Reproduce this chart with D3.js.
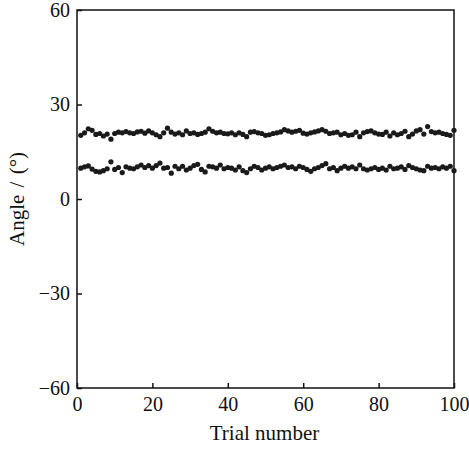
<!DOCTYPE html>
<html>
<head>
<meta charset="utf-8">
<script src="https://cdn.jsdelivr.net/npm/d3@7"></script>
<style>
  body { margin: 0; background: #fff; }
  text { font-family: "Liberation Serif", "Times New Roman", serif; fill: #111; }
</style>
</head>
<body>
<svg id="main-svg"></svg>
<script>
const svg = d3.select("#main-svg");

// data
const upperAngles = [
  20.2, 21.0, 22.3, 21.8, 20.5, 20.8, 20.0, 20.6, 19.0, 20.8,
  21.2, 21.0, 21.4, 21.0, 20.8, 21.3, 21.5, 20.9, 21.6, 21.0,
  20.4, 19.8, 21.0, 22.5, 21.2, 20.6, 21.0, 20.4, 21.6, 20.8,
  21.0, 20.5, 20.8, 21.2, 22.3, 21.5, 21.0, 21.2, 20.8, 20.7,
  21.0, 20.4, 21.0, 20.5, 19.8, 21.2, 21.4, 21.0, 20.8, 20.2,
  20.4, 20.8, 21.0, 21.3, 22.0, 21.6, 21.2, 21.5, 21.8, 20.9,
  20.6, 21.0, 21.3, 21.6, 22.0, 21.5, 20.8, 21.0, 21.2, 20.4,
  20.8, 20.2, 20.4, 21.2, 19.8, 21.0, 21.4, 21.6, 21.0, 20.6,
  20.5, 21.2, 20.0, 21.0, 20.4, 20.8, 21.5, 19.8, 20.6, 21.6,
  22.0, 20.6, 23.0, 21.4, 21.0, 21.2, 20.8, 20.5, 20.2, 21.8
];
const lowerAngles = [
  9.8, 10.2, 10.5, 9.5, 8.8, 8.6, 9.0, 9.6, 11.8, 9.4,
  10.0, 8.4, 10.2, 9.8, 9.6, 10.2, 10.8, 10.0, 10.6, 9.8,
  10.6, 11.4, 9.8, 10.0, 8.2, 10.4, 9.6, 10.4, 9.2, 9.8,
  10.6, 11.0, 9.4, 8.6, 10.4, 10.2, 9.8, 10.8, 9.6, 10.0,
  9.8, 9.2, 10.2, 9.0, 8.4, 9.6, 10.4, 10.0, 9.2, 9.8,
  10.2, 9.6, 10.0, 10.4, 10.8, 10.0, 10.2, 9.6, 10.4, 10.0,
  9.4, 8.8, 9.6, 10.0, 10.6, 11.2, 9.6, 10.0, 9.0, 9.8,
  10.4, 9.8, 10.2, 9.6, 10.8, 9.6, 9.2, 9.6, 10.0, 9.4,
  9.8, 9.2, 10.4, 9.6, 9.8, 10.2, 9.4, 10.6, 10.0, 9.6,
  9.2, 9.0, 10.4, 9.8, 10.0, 9.6, 10.2, 9.8, 10.4, 9.0
];
const xTicks = [0, 20, 40, 60, 80, 100];
const yTicks = [-60, -30, 0, 30, 60];
const xTitle = "Trial number";
const yTitle = "Angle / (°)";

// layout
const W = 469, H = 450;
const M = { left: 77, right: 15, top: 10, bottom: 62 };
const TICK = 5;

svg.attr("width", W).attr("height", H);

const x = d3.scaleLinear().domain([0, 100]).range([M.left, W - M.right]);
const y = d3.scaleLinear().domain([-60, 60]).range([H - M.bottom, M.top]);

// frame
svg.append("rect")
  .attr("x", x(0)).attr("y", y(60))
  .attr("width", x(100) - x(0)).attr("height", y(-60) - y(60))
  .attr("fill", "none").attr("stroke", "#111").attr("stroke-width", 1.5);

const xAxis = svg.append("g")
  .attr("transform", `translate(0 ${y(-60)})`)
  .call(d3.axisBottom(x).tickValues(xTicks).tickSize(-TICK).tickPadding(9).tickFormat(d3.format("d")));

const yAxis = svg.append("g")
  .attr("transform", `translate(${x(0)} 0)`)
  .call(d3.axisLeft(y).tickValues(yTicks).tickSize(-TICK).tickPadding(7)
    .tickFormat(d => d < 0 ? "\u2212" + Math.abs(d) : d));

[xAxis, yAxis].forEach(g => {
  g.select(".domain").remove();
  g.selectAll(".tick line").attr("stroke", "#111").attr("stroke-width", 1.5);
  g.selectAll(".tick text").style("font-size", "20px").attr("fill", "#111");
});

// points
const series = [upperAngles, lowerAngles];
series.forEach(vals => {
  svg.append("g").selectAll("circle")
    .data(vals)
    .join("circle")
    .attr("cx", (d, i) => x(i + 1))
    .attr("cy", d => y(d))
    .attr("r", 2.6)
    .attr("fill", "#1a1a1a");
});

// titles
svg.append("text")
  .attr("x", (x(0) + x(100)) / 2 - 1).attr("y", 440)
  .attr("text-anchor", "middle").style("font-size", "21px")
  .text(xTitle);

svg.append("text")
  .attr("transform", `translate(24 ${y(0)}) rotate(-90)`)
  .attr("text-anchor", "middle").style("font-size", "21px")
  .style("word-spacing", "2px")
  .text(yTitle);
</script>
</body>
</html>
